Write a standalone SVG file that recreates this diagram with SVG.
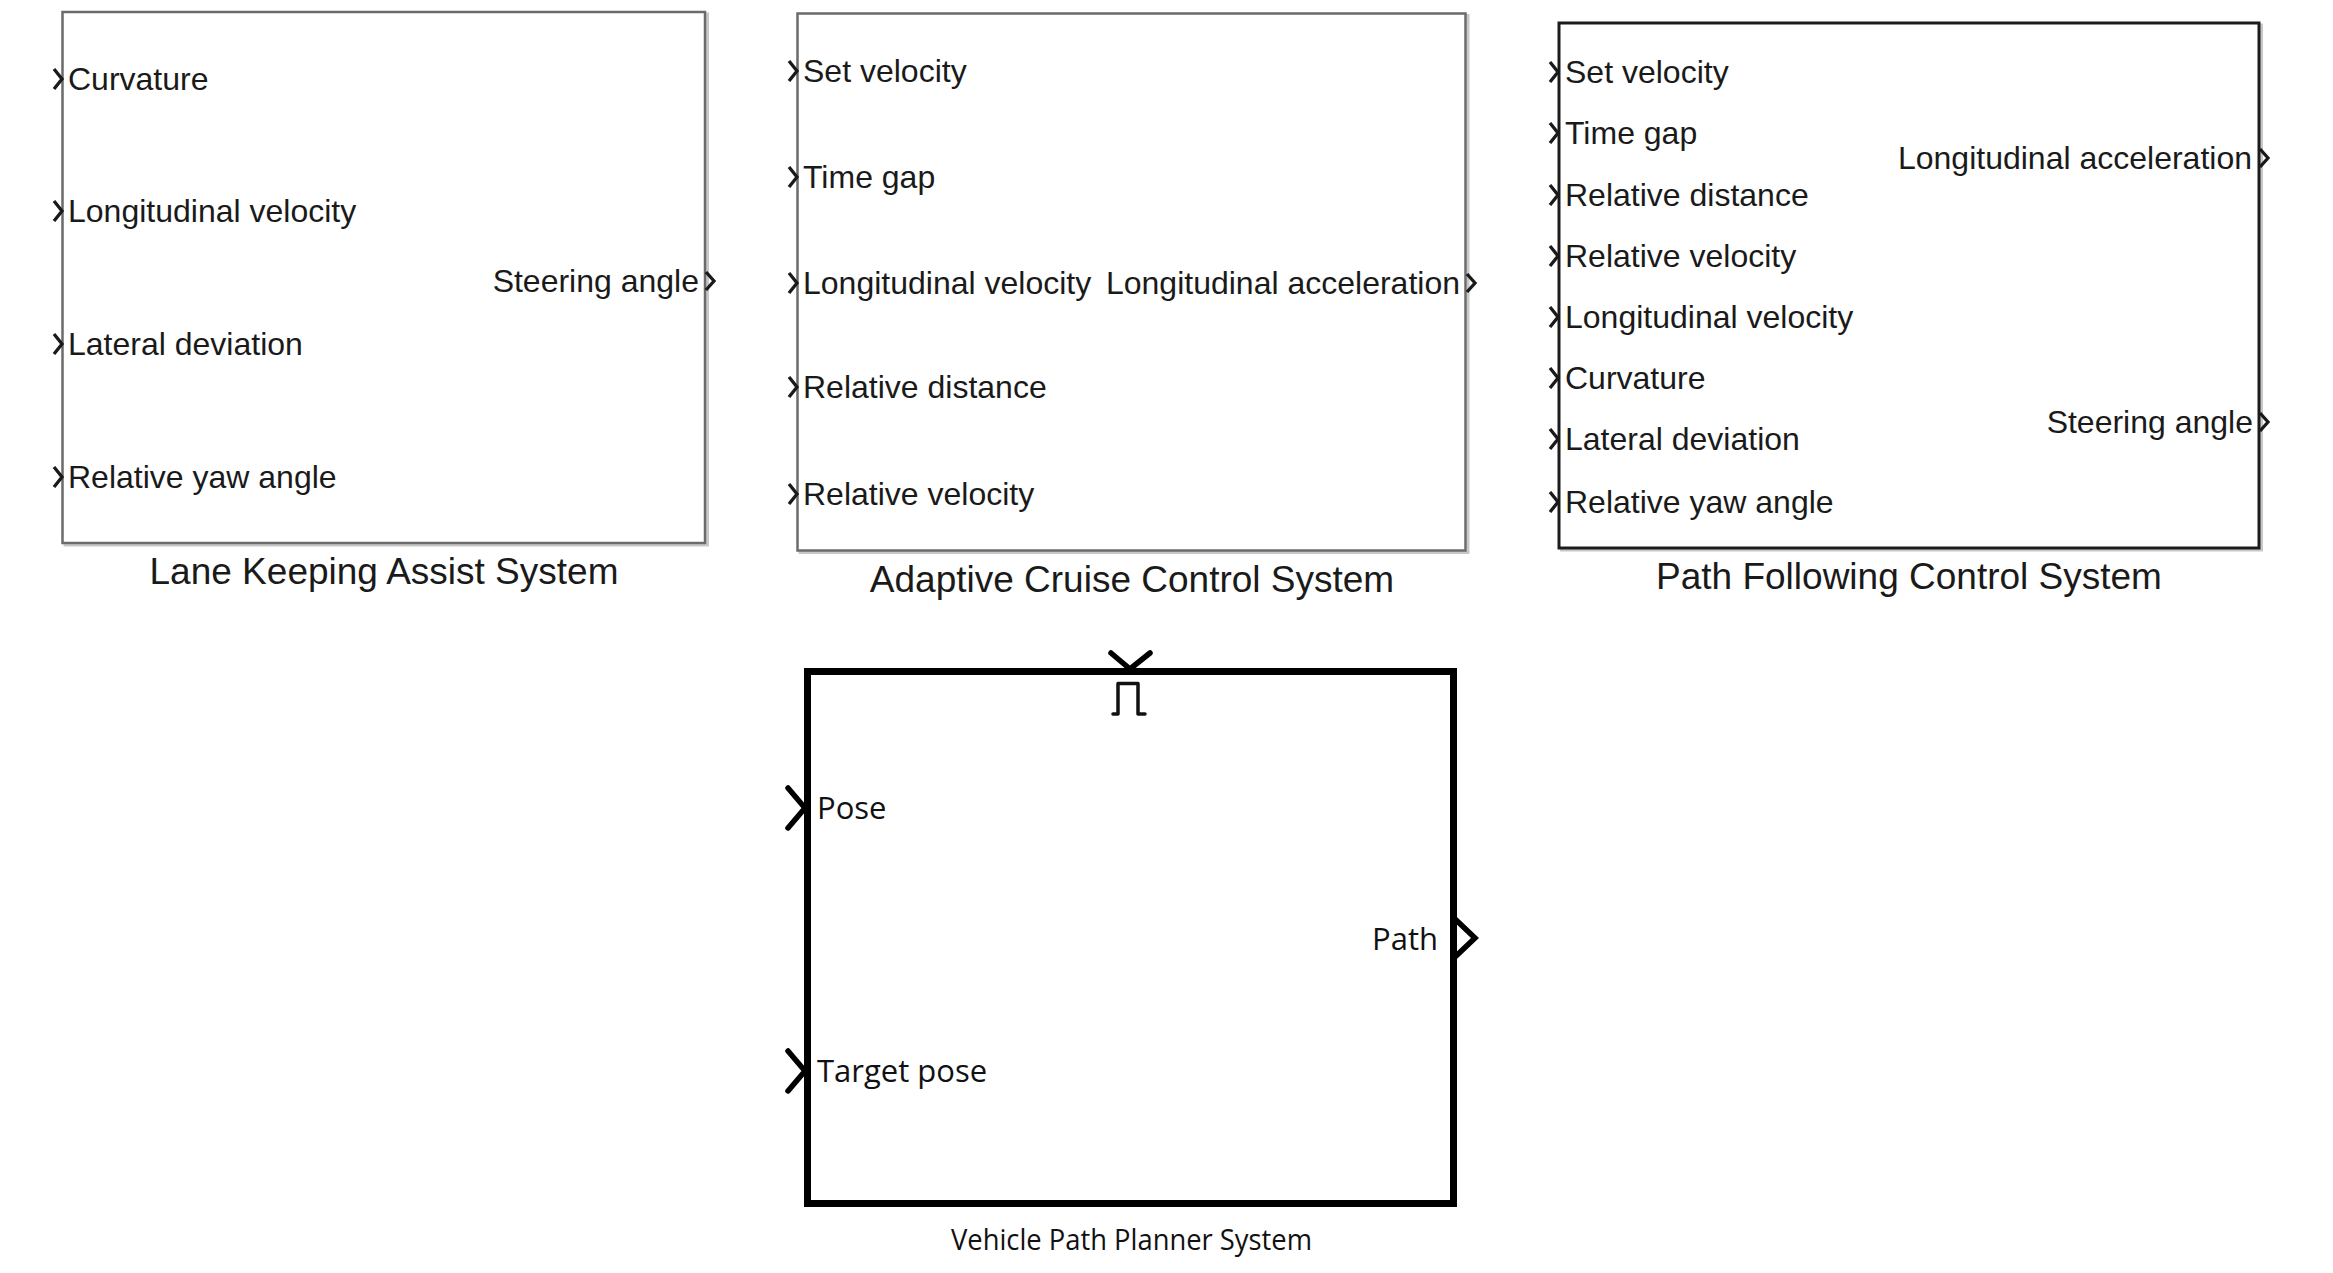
<svg xmlns="http://www.w3.org/2000/svg" width="2333" height="1273" viewBox="0 0 2333 1273">
<style>
.bg{fill:#ffffff}
.blk{fill:#ffffff;stroke:#6b6b6b;stroke-width:2.5}
.blkd{fill:#ffffff;stroke:#1c1c1c;stroke-width:3}
.shadow{fill:none;stroke:#c8c8c8;stroke-width:3}
.big{fill:#ffffff;stroke:#000000;stroke-width:7}
.port{fill:none;stroke:#1a1a1a;stroke-width:3.3;stroke-linejoin:miter}
.bport{fill:none;stroke:#000000;stroke-width:5.5;stroke-linecap:round;stroke-linejoin:miter}
.lbl{font-family:"Liberation Sans",Arial,sans-serif;font-size:32px;fill:#1a1a1a}
.cap{font-family:"Liberation Sans",Arial,sans-serif;font-size:37px;fill:#1a1a1a;text-anchor:middle}
.end{text-anchor:end}
.vl{font-family:"Open Sans","Noto Sans",sans-serif;font-size:31px;fill:#111111}
.vcap{font-family:"Open Sans","Noto Sans",sans-serif;font-size:30px;fill:#111111;text-anchor:middle}
</style>
<rect class="bg" x="0" y="0" width="2333" height="1273"/>

<g id="lane-keeping-assist">
  <rect class="shadow" x="65" y="14" width="642.5" height="531"/>
  <rect class="blk" x="62.5" y="12" width="642.5" height="531"/>
  <path class="port" d="M54,69 L62,79 L54,89"/>
  <path class="port" d="M54,201 L62,211 L54,221"/>
  <path class="port" d="M54,334 L62,344 L54,354"/>
  <path class="port" d="M54,467 L62,477 L54,487"/>
  <path class="port" d="M706,272 L714,281 L706,290"/>
  <text class="lbl" x="68" y="90">Curvature</text>
  <text class="lbl" x="68" y="222">Longitudinal velocity</text>
  <text class="lbl" x="68" y="355">Lateral deviation</text>
  <text class="lbl" x="68" y="488">Relative yaw angle</text>
  <text class="lbl end" x="699" y="292">Steering angle</text>
  <text class="cap" x="384" y="584">Lane Keeping Assist System</text>
</g>

<g id="adaptive-cruise-control">
  <rect class="shadow" x="800" y="15.5" width="668" height="537"/>
  <rect class="blk" x="797.5" y="13.5" width="668" height="537"/>
  <path class="port" d="M789,61 L797,71 L789,81"/>
  <path class="port" d="M789,167 L797,177 L789,187"/>
  <path class="port" d="M789,273 L797,283 L789,293"/>
  <path class="port" d="M789,377 L797,387 L789,397"/>
  <path class="port" d="M789,484 L797,494 L789,504"/>
  <path class="port" d="M1467,274 L1475,283 L1467,292"/>
  <text class="lbl" x="803" y="82">Set velocity</text>
  <text class="lbl" x="803" y="188">Time gap</text>
  <text class="lbl" x="803" y="294">Longitudinal velocity</text>
  <text class="lbl" x="803" y="398">Relative distance</text>
  <text class="lbl" x="803" y="505">Relative velocity</text>
  <text class="lbl end" x="1460" y="294">Longitudinal acceleration</text>
  <text class="cap" x="1132" y="592">Adaptive Cruise Control System</text>
</g>

<g id="path-following-control">
  <rect class="shadow" x="1561.5" y="25" width="700" height="525"/>
  <rect class="blkd" x="1559" y="23" width="700" height="525"/>
  <path class="port" d="M1550,62 L1558,72 L1550,82"/>
  <path class="port" d="M1550,123 L1558,133 L1550,143"/>
  <path class="port" d="M1550,185 L1558,195 L1550,205"/>
  <path class="port" d="M1550,246 L1558,256 L1550,266"/>
  <path class="port" d="M1550,307 L1558,317 L1550,327"/>
  <path class="port" d="M1550,368 L1558,378 L1550,388"/>
  <path class="port" d="M1550,429 L1558,439 L1550,449"/>
  <path class="port" d="M1550,492 L1558,502 L1550,512"/>
  <path class="port" d="M2260,149 L2268,158 L2260,167"/>
  <path class="port" d="M2260,413 L2268,422 L2260,431"/>
  <text class="lbl" x="1565" y="83">Set velocity</text>
  <text class="lbl" x="1565" y="144">Time gap</text>
  <text class="lbl" x="1565" y="206">Relative distance</text>
  <text class="lbl" x="1565" y="267">Relative velocity</text>
  <text class="lbl" x="1565" y="328">Longitudinal velocity</text>
  <text class="lbl" x="1565" y="389">Curvature</text>
  <text class="lbl" x="1565" y="450">Lateral deviation</text>
  <text class="lbl" x="1565" y="513">Relative yaw angle</text>
  <text class="lbl end" x="2252" y="169">Longitudinal acceleration</text>
  <text class="lbl end" x="2253" y="433">Steering angle</text>
  <text class="cap" x="1909" y="589">Path Following Control System</text>
</g>

<g id="vehicle-path-planner">
  <rect class="big" x="807.5" y="671.5" width="646" height="532"/>
  <path class="bport" d="M1111,653 L1130,669 L1150,653"/>
  <polyline points="1113,714 1118,714 1118,683.5 1138,683.5 1138,714 1145,714" fill="none" stroke="#111111" stroke-width="3.5" stroke-linecap="round" stroke-linejoin="round"/>
  <path class="bport" d="M788,788 L805,808 L788,828"/>
  <path class="bport" d="M788,1051 L805,1071 L788,1091"/>
  <path class="bport" d="M1455,919 L1475,938 L1455,957"/>
  <text class="vl" x="817" y="819">Pose</text>
  <text class="vl" x="817" y="1082">Target pose</text>
  <text class="vl end" x="1438" y="950" text-anchor="end">Path</text>
  <text class="vcap" x="1131.5" y="1250" textLength="361" lengthAdjust="spacingAndGlyphs">Vehicle Path Planner System</text>
</g>

<g id="connectors"></g>
</svg>
